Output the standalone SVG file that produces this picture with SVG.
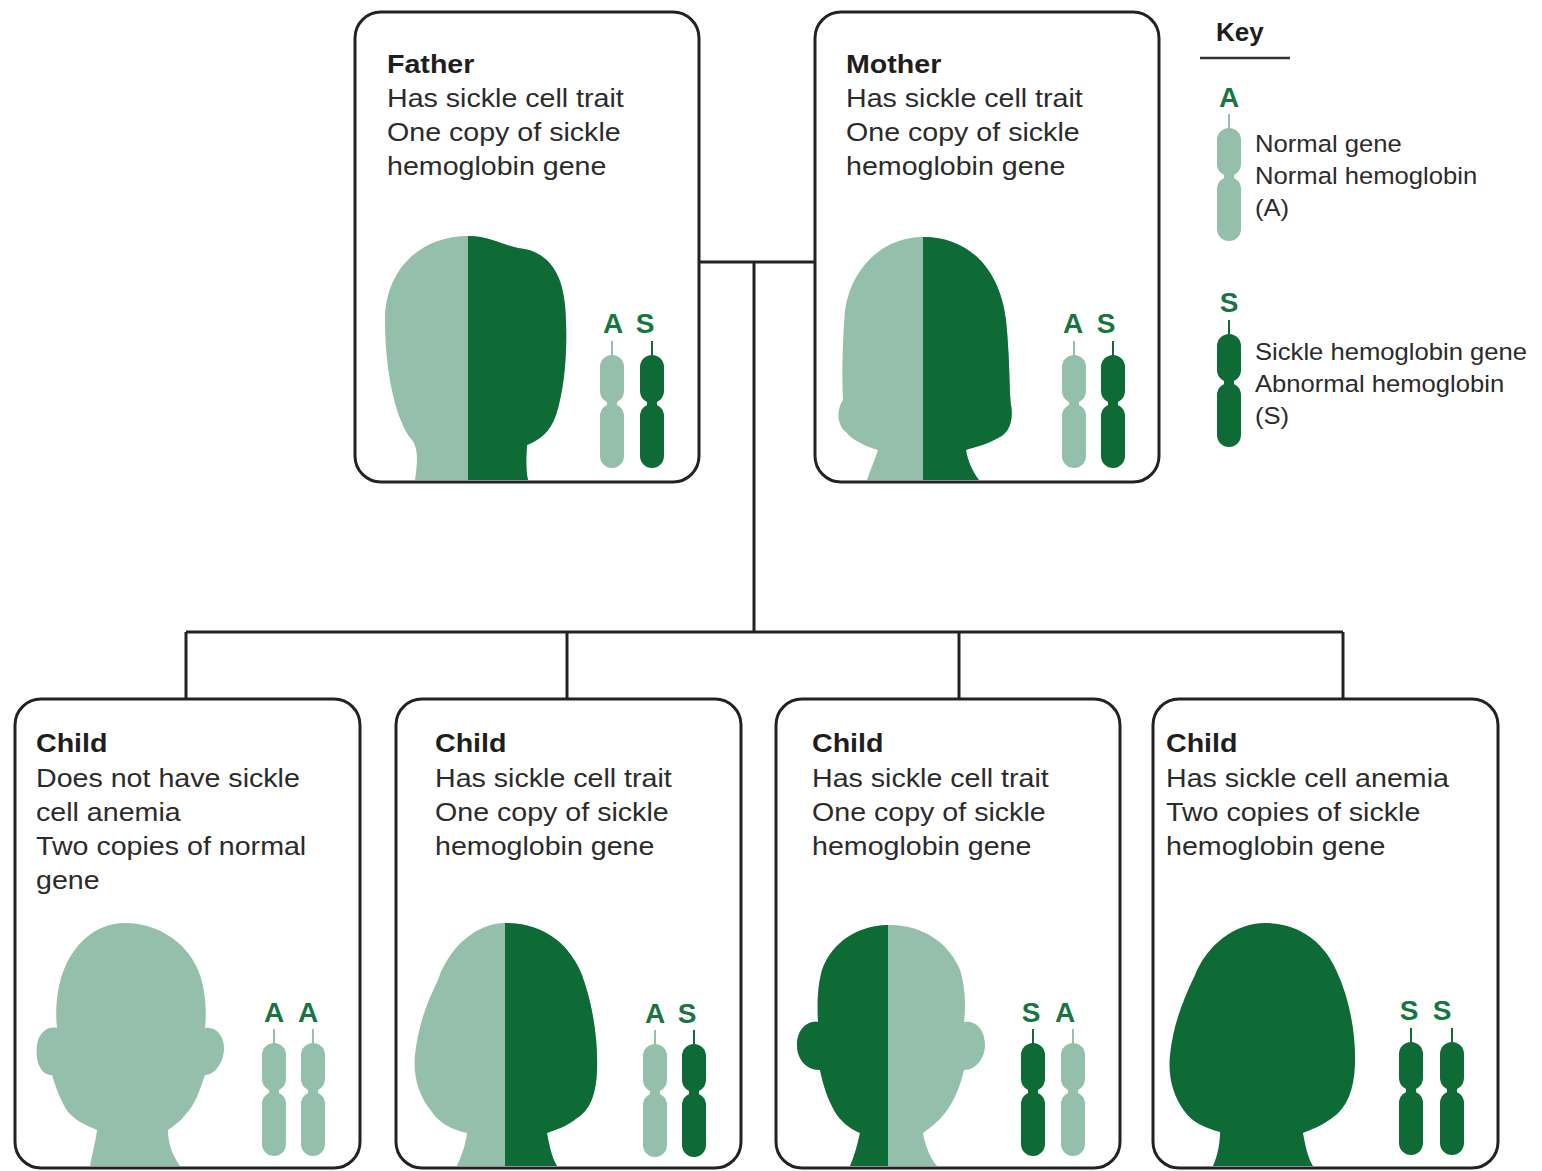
<svg xmlns="http://www.w3.org/2000/svg" xmlns:xlink="http://www.w3.org/1999/xlink" width="1542" height="1171" viewBox="0 0 1542 1171">
  <style>
    .box { fill: #ffffff; stroke: #222222; stroke-width: 3; }
    .wire { fill: none; stroke: #222222; stroke-width: 3; }
    .lite { fill: #94bfab; }
    .dark { fill: #0e6b36; }
    .t { font-family: "Liberation Sans", Arial, sans-serif; font-size: 26px; fill: #2b2b2b; }
    .tb { font-family: "Liberation Sans", Arial, sans-serif; font-size: 26px; font-weight: bold; fill: #1e1e1e; }
    .k { font-family: "Liberation Sans", Arial, sans-serif; font-size: 23.3px; fill: #2b2b2b; }
    .g { font-family: "Liberation Sans", Arial, sans-serif; font-size: 28px; font-weight: bold; fill: #17763f; text-anchor: middle; }
  </style>
  <defs>
    <!-- chromosome: stub line on top, short arm, pinch, long arm -->
    <g id="chrLite">
      <line x1="0" y1="0" x2="0" y2="15" stroke="#94bfab" stroke-width="2"/>
      <rect class="lite" x="-12" y="14" width="24" height="48" rx="12"/>
      <rect class="lite" x="-5" y="54" width="10" height="16"/>
      <rect class="lite" x="-12" y="63" width="24" height="64" rx="12"/>
    </g>
    <g id="chrDark">
      <line x1="0" y1="0" x2="0" y2="15" stroke="#0e6b36" stroke-width="2"/>
      <rect class="dark" x="-12" y="14" width="24" height="48" rx="12"/>
      <rect class="dark" x="-5" y="54" width="10" height="16"/>
      <rect class="dark" x="-12" y="63" width="24" height="64" rx="12"/>
    </g>
    <!-- head silhouettes -->
    <path id="headFather" d="M415,480 C418,460 418,448 412,440 C395,420 385,370 385,320 C385,270 420,236 468,236 C490,236 505,246 518,248 C545,250 562,270 565,305 C568,340 566,385 556,415 C550,432 540,440 527,445 C526,460 526,472 528,480 Z"/>
    <path id="headMother" d="M867,480 C870,470 875,460 878,450 C865,446 852,440 846,432 C837,425 836,410 843,400 C842,380 842,350 845,310 C852,265 885,237 923,237 C970,237 1000,270 1006,320 C1010,360 1009,385 1011,405 C1014,422 1008,434 998,438 C988,444 975,447 966,450 C968,462 973,472 979,480 Z"/>
    <path id="headChild2" d="M457,1166 C462,1155 466,1143 467,1133 C452,1130 438,1122 432,1112 C418,1095 413,1075 415,1055 C418,1025 428,1000 438,980 C450,945 478,923 505,923 C545,923 570,945 582,975 C593,1005 598,1040 597,1070 C596,1095 590,1110 577,1118 C568,1126 555,1130 547,1133 C549,1145 552,1158 557,1166 Z"/>
    <path id="headChild3" d="M850,1166 C855,1155 858,1142 860,1133 C848,1128 840,1120 835,1112 C828,1100 823,1085 820,1070 C805,1070 797,1058 797,1045 C797,1030 807,1020 818,1022 C817,1000 818,985 822,970 C832,942 858,925 890,925 C925,925 950,945 960,970 C965,985 966,1005 964,1022 C976,1020 985,1030 985,1045 C985,1058 976,1070 964,1070 C960,1088 953,1103 945,1113 C938,1122 930,1128 923,1133 C925,1145 930,1158 937,1166 Z"/>
    <clipPath id="cutFather"><rect x="468" y="200" width="200" height="290"/></clipPath>
    <clipPath id="cutMother"><rect x="923" y="200" width="200" height="290"/></clipPath>
    <clipPath id="cutChild2"><rect x="505" y="900" width="200" height="270"/></clipPath>
    <clipPath id="cutChild3"><rect x="700" y="900" width="188" height="270"/></clipPath>
  </defs>

  <rect width="1542" height="1171" fill="#ffffff"/>

  <!-- family tree lines -->
  <g id="connectors">
    <path class="wire" d="M699,262 H814"/>
    <path class="wire" d="M754,262 V632"/>
    <path class="wire" d="M186,632 H1343"/>
    <path class="wire" d="M186,632 V699"/>
    <path class="wire" d="M567,632 V699"/>
    <path class="wire" d="M959,632 V699"/>
    <path class="wire" d="M1343,632 V699"/>
  </g>

  <!-- father -->
  <g id="father">
    <rect class="box" x="355" y="12" width="344" height="470" rx="26"/>
    <g transform="translate(387,0) scale(1.1,1)">
      <text class="tb" x="0" y="73">Father</text>
      <text class="t" x="0" y="107">Has sickle cell trait</text>
      <text class="t" x="0" y="141">One copy of sickle</text>
      <text class="t" x="0" y="175">hemoglobin gene</text>
    </g>
    <use href="#headFather" xlink:href="#headFather" fill="#94bfab"/>
    <use href="#headFather" xlink:href="#headFather" fill="#0e6b36" clip-path="url(#cutFather)"/>
    <text class="g" x="613" y="333">A</text>
    <text class="g" x="645" y="333">S</text>
    <use href="#chrLite" xlink:href="#chrLite" x="612" y="341"/>
    <use href="#chrDark" xlink:href="#chrDark" x="652" y="341"/>
  </g>

  <!-- mother -->
  <g id="mother">
    <rect class="box" x="815" y="12" width="344" height="470" rx="26"/>
    <g transform="translate(846,0) scale(1.1,1)">
      <text class="tb" x="0" y="73">Mother</text>
      <text class="t" x="0" y="107">Has sickle cell trait</text>
      <text class="t" x="0" y="141">One copy of sickle</text>
      <text class="t" x="0" y="175">hemoglobin gene</text>
    </g>
    <use href="#headMother" xlink:href="#headMother" fill="#94bfab"/>
    <use href="#headMother" xlink:href="#headMother" fill="#0e6b36" clip-path="url(#cutMother)"/>
    <text class="g" x="1073" y="333">A</text>
    <text class="g" x="1106" y="333">S</text>
    <use href="#chrLite" xlink:href="#chrLite" x="1074" y="341"/>
    <use href="#chrDark" xlink:href="#chrDark" x="1113" y="341"/>
  </g>

  <!-- key -->
  <g id="key">
    <text class="tb" x="1216" y="41">Key</text>
    <line x1="1200" y1="58" x2="1290" y2="58" stroke="#333333" stroke-width="2.5"/>
    <text class="g" x="1229" y="107">A</text>
    <use href="#chrLite" xlink:href="#chrLite" x="1229" y="114"/>
    <g transform="translate(1255,0) scale(1.1,1)">
      <text class="k" x="0" y="152">Normal gene</text>
      <text class="k" x="0" y="184">Normal hemoglobin</text>
      <text class="k" x="0" y="216">(A)</text>
    </g>
    <text class="g" x="1229" y="312">S</text>
    <use href="#chrDark" xlink:href="#chrDark" x="1229" y="320"/>
    <g transform="translate(1255,0) scale(1.1,1)">
      <text class="k" x="0" y="360">Sickle hemoglobin gene</text>
      <text class="k" x="0" y="392">Abnormal hemoglobin</text>
      <text class="k" x="0" y="424">(S)</text>
    </g>
  </g>

  <!-- child: no sickle cell anemia -->
  <g id="child1">
    <rect class="box" x="15" y="699" width="345" height="469" rx="26"/>
    <g transform="translate(36,0) scale(1.1,1)">
      <text class="tb" x="0" y="752">Child</text>
      <text class="t" x="0" y="787">Does not have sickle</text>
      <text class="t" x="0" y="821">cell anemia</text>
      <text class="t" x="0" y="855">Two copies of normal</text>
      <text class="t" x="0" y="889">gene</text>
    </g>
    <path class="lite" d="M90,1166 C93,1150 96,1140 97,1130 C85,1125 75,1120 68,1112 C60,1100 55,1085 52,1075 C40,1075 35,1060 37,1045 C39,1032 48,1026 57,1028 C55,1010 57,990 62,975 C72,945 95,923 125,923 C160,923 190,945 200,975 C205,990 207,1010 205,1028 C215,1026 224,1035 224,1048 C224,1062 215,1075 205,1075 C200,1090 195,1105 185,1115 C180,1122 172,1127 168,1130 C168,1143 172,1155 180,1166 Z"/>
    <text class="g" x="274" y="1022">A</text>
    <text class="g" x="308" y="1022">A</text>
    <use href="#chrLite" xlink:href="#chrLite" x="274" y="1029"/>
    <use href="#chrLite" xlink:href="#chrLite" x="313" y="1029"/>
  </g>

  <!-- child: sickle cell trait (A S) -->
  <g id="child2">
    <rect class="box" x="396" y="699" width="345" height="469" rx="26"/>
    <g transform="translate(435,0) scale(1.1,1)">
      <text class="tb" x="0" y="752">Child</text>
      <text class="t" x="0" y="787">Has sickle cell trait</text>
      <text class="t" x="0" y="821">One copy of sickle</text>
      <text class="t" x="0" y="855">hemoglobin gene</text>
    </g>
    <use href="#headChild2" xlink:href="#headChild2" fill="#94bfab"/>
    <use href="#headChild2" xlink:href="#headChild2" fill="#0e6b36" clip-path="url(#cutChild2)"/>
    <text class="g" x="655" y="1023">A</text>
    <text class="g" x="687" y="1023">S</text>
    <use href="#chrLite" xlink:href="#chrLite" x="655" y="1030"/>
    <use href="#chrDark" xlink:href="#chrDark" x="694" y="1030"/>
  </g>

  <!-- child: sickle cell trait (S A) -->
  <g id="child3">
    <rect class="box" x="776" y="699" width="344" height="469" rx="26"/>
    <g transform="translate(812,0) scale(1.1,1)">
      <text class="tb" x="0" y="752">Child</text>
      <text class="t" x="0" y="787">Has sickle cell trait</text>
      <text class="t" x="0" y="821">One copy of sickle</text>
      <text class="t" x="0" y="855">hemoglobin gene</text>
    </g>
    <use href="#headChild3" xlink:href="#headChild3" fill="#94bfab"/>
    <use href="#headChild3" xlink:href="#headChild3" fill="#0e6b36" clip-path="url(#cutChild3)"/>
    <text class="g" x="1031" y="1022">S</text>
    <text class="g" x="1065" y="1022">A</text>
    <use href="#chrDark" xlink:href="#chrDark" x="1033" y="1029"/>
    <use href="#chrLite" xlink:href="#chrLite" x="1073" y="1029"/>
  </g>

  <!-- child: sickle cell anemia (S S) -->
  <g id="child4">
    <rect class="box" x="1153" y="699" width="345" height="469" rx="26"/>
    <g transform="translate(1166,0) scale(1.1,1)">
      <text class="tb" x="0" y="752">Child</text>
      <text class="t" x="0" y="787">Has sickle cell anemia</text>
      <text class="t" x="0" y="821">Two copies of sickle</text>
      <text class="t" x="0" y="855">hemoglobin gene</text>
    </g>
    <path class="dark" d="M1213,1166 C1218,1155 1220,1142 1220,1132 C1205,1128 1192,1122 1185,1112 C1172,1095 1168,1075 1170,1055 C1173,1025 1183,1000 1195,975 C1207,945 1235,923 1265,923 C1300,923 1325,943 1337,972 C1350,1000 1356,1035 1355,1065 C1354,1090 1347,1108 1332,1118 C1322,1126 1310,1130 1303,1133 C1305,1145 1308,1158 1313,1166 Z"/>
    <text class="g" x="1409" y="1020">S</text>
    <text class="g" x="1442" y="1020">S</text>
    <use href="#chrDark" xlink:href="#chrDark" x="1411" y="1028"/>
    <use href="#chrDark" xlink:href="#chrDark" x="1452" y="1028"/>
  </g>
</svg>
